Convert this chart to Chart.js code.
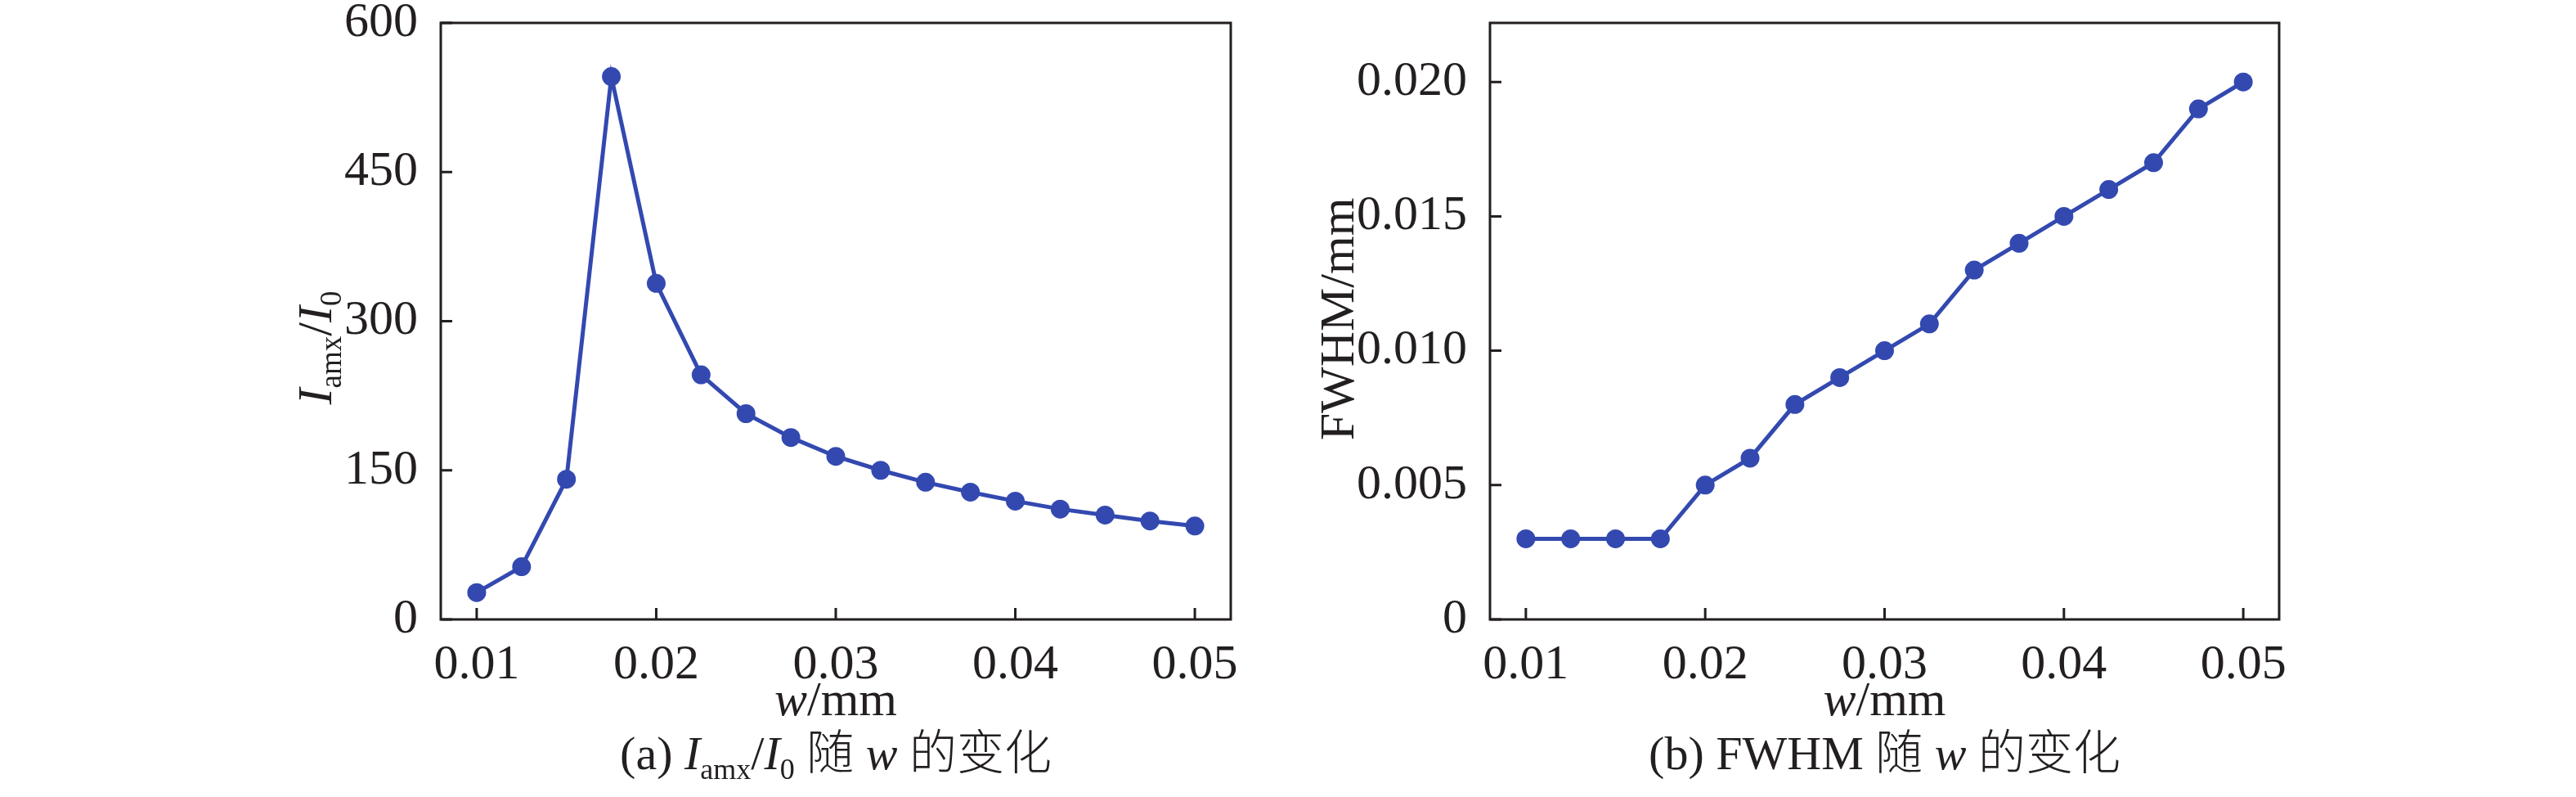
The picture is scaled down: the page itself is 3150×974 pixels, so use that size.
<!DOCTYPE html>
<html lang="zh">
<head>
    <meta charset="UTF-8">
    <title>I/I0 与 FWHM 随 w 的变化</title>
    <script src="https://cdn.jsdelivr.net/npm/chart.js@4.4.0/dist/chart.umd.min.js"></script>
    <style>
        body {margin: 0; background: #fff;}
        #wrap {position: relative; width: 3150px; height: 974px;}
        canvas {position: absolute; top: 0;}
        #left {left: 0;}
        #right {left: 1575px;}
    </style>
</head>
<body>
<div id="wrap">
    <canvas id="left" width="1575" height="974"></canvas>
    <canvas id="right" width="1575" height="974"></canvas>
</div>
<script>
// slit width w (mm)
const widths = [0.01, 0.0125, 0.015, 0.0175, 0.02, 0.0225, 0.025, 0.0275, 0.03,
                0.0325, 0.035, 0.0375, 0.04, 0.0425, 0.045, 0.0475, 0.05];
// (a) I_amx / I_0
const intensityRatio = [27, 53, 141, 546, 338, 246, 207, 183, 164,
                        150, 138, 128, 119, 111, 105, 99, 94];
// (b) FWHM (mm)
const fwhm = [0.003, 0.003, 0.003, 0.003, 0.005, 0.006, 0.008, 0.009, 0.010,
              0.011, 0.013, 0.014, 0.015, 0.016, 0.017, 0.019, 0.020];

const xTicks = [0.01, 0.02, 0.03, 0.04, 0.05];
const ratioTicks = [0, 150, 300, 450, 600];
const fwhmTicks = [0, 0.005, 0.010, 0.015, 0.020];

const ratioTitle = [{t: 'I', i: true}, {t: 'amx', s: true}, {t: '/'}, {t: 'I', i: true}, {t: '0', s: true}];
const fwhmTitle = [{t: 'FWHM/mm'}];
const xTitle = [{t: 'w', i: true}, {t: '/mm'}];
const captionA = [{t: '(a) '}, {t: 'I', i: true}, {t: 'amx', s: true}, {t: '/'}, {t: 'I', i: true}, {t: '0', s: true},
                  {t: ' '}, {t: '随', c: true}, {t: ' '}, {t: 'w', i: true}, {t: ' '}, {t: '的变化', c: true}];
const captionB = [{t: '(b) FWHM '}, {t: '随', c: true}, {t: ' '}, {t: 'w', i: true}, {t: ' '}, {t: '的变化', c: true}];

const INK = '#231f20';
const BLUE = '#3349b0';
const SERIF = '"Liberation Serif", "Times New Roman", serif';
const CJK = '"Noto Sans CJK SC", sans-serif';
const FS = 60;

function runFont(r, size) {
    const px = r.s ? Math.round(size * 0.62) : size;
    return (r.i ? 'italic ' : '') + (r.c ? '300 ' : '') + px + 'px ' + (r.c ? CJK : SERIF);
}

function drawRuns(ctx, runs, cx, y, size) {
    let total = 0;
    runs.forEach(r => { ctx.font = runFont(r, size); total += ctx.measureText(r.t).width; });
    let x = cx - total / 2;
    runs.forEach(r => {
        ctx.font = runFont(r, size);
        ctx.fillText(r.t, x, y + (r.s ? size * 0.2 : 0));
        x += ctx.measureText(r.t).width;
    });
}

// frame, inward ticks and the rich-text titles
const decor = {
    id: 'decor',
    afterDraw(chart, args, opts) {
        const {ctx, chartArea: a, scales} = chart;
        ctx.save();
        ctx.strokeStyle = INK;
        ctx.lineWidth = 3;
        ctx.strokeRect(a.left, a.top, a.right - a.left, a.bottom - a.top);
        ctx.beginPath();
        scales.x.ticks.forEach(t => {
            const px = scales.x.getPixelForValue(t.value);
            ctx.moveTo(px, a.bottom); ctx.lineTo(px, a.bottom - 14);
        });
        scales.y.ticks.forEach(t => {
            const py = scales.y.getPixelForValue(t.value);
            ctx.moveTo(a.left, py); ctx.lineTo(a.left + 14, py);
        });
        ctx.stroke();

        ctx.fillStyle = INK;
        ctx.textAlign = 'left';
        ctx.textBaseline = 'alphabetic';
        const mid = (a.left + a.right) / 2;
        drawRuns(ctx, xTitle, mid, 874, FS);
        drawRuns(ctx, opts.caption, mid, 940, 58);
        ctx.translate(opts.yTitleX, opts.yTitleY);
        ctx.rotate(-Math.PI / 2);
        drawRuns(ctx, opts.yTitle, 0, 0, FS);
        ctx.restore();
    }
};

function makeChart(id, values, yMax, yTicks, yFmt, padRight, yWidth, plug) {
    return new Chart(document.getElementById(id), {
        type: 'line',
        data: {
            datasets: [{
                data: widths.map((w, k) => ({x: w, y: values[k]})),
                borderColor: BLUE,
                backgroundColor: BLUE,
                borderWidth: 5,
                pointRadius: 9,
                pointHoverRadius: 9,
                tension: 0
            }]
        },
        options: {
            responsive: false,
            animation: false,
            devicePixelRatio: 1,
            layout: {padding: {left: 0, right: padRight, top: 28, bottom: 0}},
            plugins: {legend: {display: false}, tooltip: {enabled: false}, decor: plug},
            scales: {
                x: {
                    type: 'linear', min: 0.008, max: 0.052,
                    afterBuildTicks: s => { s.ticks = xTicks.map(v => ({value: v})); },
                    afterFit: s => { s.height = 217; s.paddingLeft = 0; s.paddingRight = 0; },
                    grid: {display: false},
                    border: {display: false},
                    ticks: {
                        padding: 12, color: INK, maxRotation: 0,
                        font: {family: SERIF, size: FS},
                        callback: v => v.toFixed(2)
                    }
                },
                y: {
                    min: 0, max: yMax,
                    afterBuildTicks: s => { s.ticks = yTicks.map(v => ({value: v})); },
                    afterFit: s => { s.width = yWidth; s.paddingTop = 0; s.paddingBottom = 0; },
                    grid: {display: false},
                    border: {display: false},
                    ticks: {
                        padding: 20, color: INK,
                        font: {family: SERIF, size: FS},
                        callback: yFmt
                    }
                }
            }
        },
        plugins: [decor]
    });
}

makeChart('left', intensityRatio, 600, ratioTicks, v => String(v), 70, 539,
    {caption: captionA, yTitle: ratioTitle, yTitleX: 405, yTitleY: 425});
makeChart('right', fwhm, 0.0222, fwhmTicks, v => v === 0 ? '0' : v.toFixed(3), 363, 247,
    {caption: captionB, yTitle: fwhmTitle, yTitleX: 1655 - 1575, yTitleY: 390});
</script>
</body>
</html>
